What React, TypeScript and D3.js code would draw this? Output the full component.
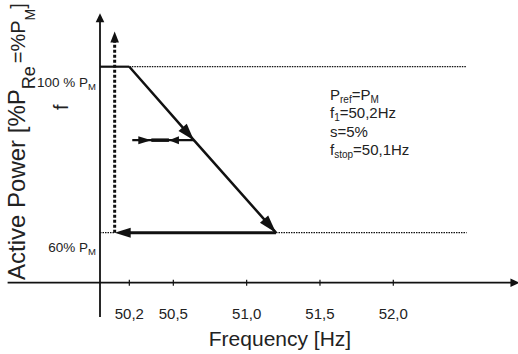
import React from "react";
import * as d3 from "d3";

// ---- data ----
const freqTicks = [50.2, 50.5, 51.0, 51.5, 52.0];
const tickLabels = ["50,2", "50,5", "51,0", "51,5", "52,0"];
const levelPower = [100, 60]; // % P_M reference levels
const levelLabels = ["100 % P", "60% P"];
const levelDotEnd = 52.5; // dotted guide lines end (Hz)
const droopFreq = [50.0, 50.2, 50.64, 51.2];
const droopPower = [100, 100, 82.3, 60];
const returnFreq = [51.2, 50.1]; // at 60 %
const stopFreq = 50.1;
const stopPower = [60, 108.5];
const hystFreq = [50.22, 50.35, 50.47, 50.64];
const hystPower = 82.3;
const xAxisExtent = [49.37, 52.86];
const yAxisExtent = [39.7, 112.9];
const xAxisPower = 47.95;
const noteLines = [
  ["P", "ref", "=P", "M"],
  ["f", "1", "=50,2Hz", ""],
  ["s=5%", "", "", ""],
  ["f", "stop", "=50,1Hz", ""],
];

const FONT = "'Liberation Sans', Arial, Helvetica, sans-serif";
const INK = "#111";
const TXT = "#222";

function head(tx: number, ty: number, fx: number, fy: number, len: number, hw: number) {
  const dx = tx - fx, dy = ty - fy;
  const d = Math.hypot(dx, dy);
  const ux = dx / d, uy = dy / d;
  const bx = tx - ux * len, by = ty - uy * len;
  const px = -uy, py = ux;
  return `${tx},${ty} ${bx + px * hw},${by + py * hw} ${bx - px * hw},${by - py * hw}`;
}

export default function App() {
  const x = d3.scaleLinear().domain([50, 52]).range([100, 393.3]);
  const y = d3.scaleLinear().domain([60, 100]).range([232.7, 66.7]);
  const line = d3.line<number>();

  const ax0 = x(50), ay0 = y(xAxisPower);
  const droopPts = droopFreq.map((f, i) => [x(f), y(droopPower[i])] as [number, number]);

  return (
    <svg width={518} height={354} style={{ position: "absolute", left: 0, top: 0, background: "#fff" }} fontFamily={FONT}>
      {/* dotted guides */}
      {levelPower.map((p, i) => (
        <line key={"g" + i} x1={i === 0 ? x(50.2) : x(51.2)} x2={x(levelDotEnd)} y1={y(p)} y2={y(p)}
          stroke={INK} strokeWidth={1.3} strokeDasharray="1.5,1" />
      ))}
      <line x1={ax0} x2={x(stopFreq)} y1={y(60)} y2={y(60)} stroke={INK} strokeWidth={1.3} strokeDasharray="1.5,1" />

      {/* axes */}
      <line x1={x(xAxisExtent[0])} x2={x(xAxisExtent[1]) - 6} y1={ay0} y2={ay0} stroke={INK} strokeWidth={1.8} />
      <polygon points={head(x(xAxisExtent[1]), ay0, x(xAxisExtent[0]), ay0, 9, 4.3)} fill={INK} />
      <line x1={ax0} x2={ax0} y1={y(yAxisExtent[1]) + 6} y2={y(yAxisExtent[0])} stroke={INK} strokeWidth={1.8} />
      <polygon points={head(ax0, y(yAxisExtent[1]), ax0, y(yAxisExtent[0]), 9, 4.3)} fill={INK} />
      {freqTicks.map((f, i) => (
        <g key={"t" + i}>
          <line x1={x(f)} x2={x(f)} y1={ay0 - 3} y2={ay0 + 3} stroke={INK} strokeWidth={1.2} />
          <text x={x(f)} y={319.3} textAnchor="middle" fontSize={15} fill={TXT}>{tickLabels[i]}</text>
        </g>
      ))}

      {/* stop frequency vertical dotted arrow */}
      <line x1={x(stopFreq)} x2={x(stopFreq)} y1={y(stopPower[0])} y2={y(stopPower[1]) + 9}
        stroke={INK} strokeWidth={3} strokeDasharray="3,2" />
      <polygon points={head(x(stopFreq), y(stopPower[1]), x(stopFreq), y(stopPower[0]), 11, 4.3)} fill={INK} />

      {/* droop characteristic */}
      <path d={line(droopPts.slice(0, 2)) || ""} stroke={INK} strokeWidth={2.2} fill="none" />
      <path d={line(droopPts.slice(1)) || ""} stroke={INK} strokeWidth={2.5} fill="none" />
      <polygon points={head(droopPts[2][0], droopPts[2][1], droopPts[1][0], droopPts[1][1], 17, 5.5)} fill={INK} />
      <polygon points={head(droopPts[3][0], droopPts[3][1], droopPts[1][0], droopPts[1][1], 18, 5.5)} fill={INK} />

      {/* return to 60% */}
      <line x1={x(returnFreq[0])} x2={x(returnFreq[1]) + 12} y1={y(60)} y2={y(60)} stroke={INK} strokeWidth={3} />
      <polygon points={head(x(returnFreq[1]), y(60), x(returnFreq[0]), y(60), 16, 5)} fill={INK} />

      {/* hysteresis arrows */}
      <line x1={x(hystFreq[0])} x2={x(hystFreq[3])} y1={y(hystPower)} y2={y(hystPower)} stroke={INK} strokeWidth={2.2} />
      <line x1={x(hystFreq[1])} x2={x(hystFreq[2])} y1={y(hystPower)} y2={y(hystPower)} stroke={INK} strokeWidth={3.5} />
      <polygon points={head(x(hystFreq[1]), y(hystPower), x(hystFreq[0]), y(hystPower), 13, 4)} fill={INK} />
      <polygon points={head(x(hystFreq[2]), y(hystPower), x(hystFreq[3]), y(hystPower), 10, 4)} fill={INK} />

      {/* level labels */}
      {levelPower.map((p, i) => (
        <text key={"l" + i} x={96} y={y(p) + (i === 0 ? 20 : 19.5)} textAnchor="end" fontSize={13.5} fill={TXT}>
          {levelLabels[i]}<tspan fontSize={9.5} dy={3}>M</tspan>
        </text>
      ))}

      {/* notes */}
      {noteLines.map((ln, i) => (
        <text key={"n" + i} x={330} y={100 + i * 18.35} fontSize={15} fill={TXT}>
          {ln[0]}
          {ln[1] && <tspan fontSize={10} dy={3}>{ln[1]}</tspan>}
          {ln[2] && <tspan dy={ln[1] ? -3 : 0}>{ln[2]}</tspan>}
          {ln[3] && <tspan fontSize={10} dy={3}>{ln[3]}</tspan>}
        </text>
      ))}

      {/* axis titles */}
      <text x={280} y={345.7} textAnchor="middle" fontSize={21} fill={TXT}>Frequency [Hz]</text>
      <text transform="translate(25,280) rotate(-90)" fontSize={24} fill={TXT}>
        Active Power [%P<tspan fontSize={18} dy={10}>Re</tspan><tspan fontSize={20} dy={-10} dx={3}>=%P</tspan>
        <tspan fontSize={14} dy={10}>M</tspan><tspan fontSize={20} dy={-10}>]</tspan>
      </text>
      <text transform="translate(68,110) rotate(-90)" fontSize={20} fill={TXT}>f</text>
    </svg>
  );
}
